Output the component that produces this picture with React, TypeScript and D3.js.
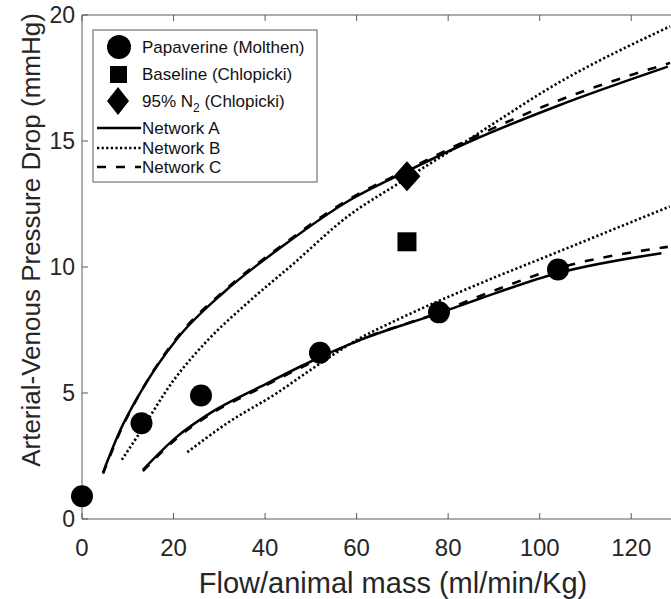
import React from 'react';
import * as d3 from 'd3';

// Papaverine (Molthen) measurements
const papX = [0, 13, 26, 52, 78, 104];
const papY = [0.9, 3.8, 4.9, 6.6, 8.2, 9.9];
// Chlopicki
const baseX = [71];
const baseY = [11.0];
const n2X = [71];
const n2Y = [13.6];

// model curves, upper branch
const upAX = [4.6, 8.3, 12.7, 21, 31, 44, 58, 71, 85, 104, 128];
const upAY = [1.85, 3.5, 5.0, 7.2, 9.0, 10.85, 12.6, 13.8, 15.0, 16.4, 17.95];
const upBX = [8.7, 12, 20, 27.5, 36, 46, 58, 69, 84, 104, 128.5];
const upBY = [2.35, 3.25, 5.5, 7.1, 8.55, 10.1, 12.0, 13.3, 15.0, 17.3, 19.55];
const upCX = [4.6, 8.3, 12.7, 21, 31, 44, 58, 71, 85, 104, 128.5];
const upCY = [1.8, 3.45, 5.0, 7.25, 9.05, 10.9, 12.65, 13.85, 15.1, 16.6, 18.1];
// model curves, lower branch
const loAX = [13.3, 20.7, 28, 39, 50, 60, 78, 87, 104, 126.6];
const loAY = [1.95, 3.26, 4.2, 5.25, 6.25, 7.05, 8.17, 8.75, 9.76, 10.55];
const loBX = [23, 31.7, 42.6, 49.8, 60, 69.4, 87, 104, 128.4];
const loBY = [2.65, 3.8, 5.0, 5.9, 7.1, 7.95, 9.35, 10.6, 12.4];
const loCX = [13.3, 20.7, 28, 39, 50, 60, 78, 87, 104, 128];
const loCY = [1.9, 3.2, 4.15, 5.2, 6.2, 7.05, 8.2, 8.85, 9.95, 10.8];

const xTicks = [0, 20, 40, 60, 80, 100, 120];
const yTicks = [0, 5, 10, 15, 20];

const W = 671;
const H = 599;
const FONT = '"Liberation Sans", Arial, sans-serif';
const TXT = '#262626';
const AXL = '#5a5a5a';

export default function App() {
  const x = d3.scaleLinear().domain([0, 130]).range([82, 677]);
  const y = d3.scaleLinear().domain([0, 20]).range([519, 15]);

  const line = d3
    .line<[number, number]>()
    .x(d => x(d[0]))
    .y(d => y(d[1]))
    .curve(d3.curveMonotoneX);

  const zip = (xs: number[], ys: number[]) => xs.map((v, i) => [v, ys[i]] as [number, number]);

  const styles = {
    A: { dash: undefined as string | undefined, w: 2.5 },
    B: { dash: '2.2,2.4', w: 2.6 },
    C: { dash: '9,10', w: 2.6 },
  };

  const curves = [
    { d: line(zip(upAX, upAY)), s: styles.A },
    { d: line(zip(loAX, loAY)), s: styles.A },
    { d: line(zip(upBX, upBY)), s: styles.B },
    { d: line(zip(loBX, loBY)), s: styles.B },
    { d: line(zip(upCX, upCY)), s: styles.C },
    { d: line(zip(loCX, loCY)), s: styles.C },
  ];

  const diamond = (cx: number, cy: number, w: number, h: number) =>
    `M${cx},${cy - h / 2}L${cx + w / 2},${cy}L${cx},${cy + h / 2}L${cx - w / 2},${cy}Z`;

  const legendRows = [
    { label: 'Papaverine (Molthen)', y: 47 },
    { label: 'Baseline (Chlopicki)', y: 74 },
    { label: '95% N', sub: '2', rest: ' (Chlopicki)', y: 101 },
    { label: 'Network A', y: 128, s: styles.A },
    { label: 'Network B', y: 148, s: styles.B },
    { label: 'Network C', y: 167, s: styles.C },
  ];

  return (
    <svg width={W} height={H} style={{ display: 'block', position: 'absolute', left: 0, top: 0 }} fontFamily={FONT}>
      <rect width={W} height={H} fill="#fff" />
      {/* axes box */}
      <line x1={82} x2={82} y1={15} y2={519} stroke={AXL} strokeWidth={1} />
      <line x1={82} x2={W} y1={519} y2={519} stroke={AXL} strokeWidth={1} />
      <line x1={82} x2={W} y1={15} y2={15} stroke={AXL} strokeWidth={1} />
      {xTicks.map(t => (
        <g key={'x' + t}>
          <line x1={x(t)} x2={x(t)} y1={519} y2={513} stroke={AXL} />
          <line x1={x(t)} x2={x(t)} y1={15} y2={21} stroke={AXL} />
          <text x={x(t)} y={556} textAnchor="middle" fontSize={24} fill={TXT}>{t}</text>
        </g>
      ))}
      {yTicks.map(t => (
        <g key={'y' + t}>
          <line x1={82} x2={88} y1={y(t)} y2={y(t)} stroke={AXL} />
          <text x={75} y={y(t) + 8} textAnchor="end" fontSize={23} fill={TXT}>{t}</text>
        </g>
      ))}
      <text x={393} y={593} textAnchor="middle" fontSize={29} fill={TXT}>Flow/animal mass (ml/min/Kg)</text>
      <text transform="translate(40,240) rotate(-90)" textAnchor="middle" fontSize={26} fill={TXT}>
        Arterial-Venous Pressure Drop (mmHg)
      </text>

      {/* model curves */}
      {curves.map((c, i) => (
        <path key={i} d={c.d || ''} fill="none" stroke="#000" strokeWidth={c.s.w} strokeDasharray={c.s.dash} />
      ))}

      {/* measurements */}
      {papX.map((v, i) => (
        <circle key={'p' + i} cx={x(v)} cy={y(papY[i])} r={11} fill="#000" />
      ))}
      {baseX.map((v, i) => (
        <rect key={'b' + i} x={x(v) - 9.5} y={y(baseY[i]) - 9.5} width={19} height={19} fill="#000" />
      ))}
      {n2X.map((v, i) => (
        <path key={'n' + i} d={diamond(x(v), y(n2Y[i]), 27, 30)} fill="#000" />
      ))}

      {/* legend */}
      <rect x={93} y={30} width={224} height={152} fill="#fff" stroke={AXL} strokeWidth={1} />
      <circle cx={119} cy={47} r={12} fill="#000" />
      <rect x={110} y={66} width={17} height={17} fill="#000" />
      <path d={diamond(118, 101, 22, 28)} fill="#000" />
      {legendRows.map((r, i) => (
        <g key={'l' + i}>
          {r.s && (
            <line x1={97} x2={141} y1={r.y} y2={r.y} stroke="#000" strokeWidth={r.s.w} strokeDasharray={r.s.dash} />
          )}
          <text x={142} y={r.y + 6} fontSize={17} fill="#111">
            {r.label}
            {r.sub && (
              <tspan fontSize={12} dy={5}>{r.sub}</tspan>
            )}
            {r.rest && <tspan dy={-5}>{r.rest}</tspan>}
          </text>
        </g>
      ))}
    </svg>
  );
}
